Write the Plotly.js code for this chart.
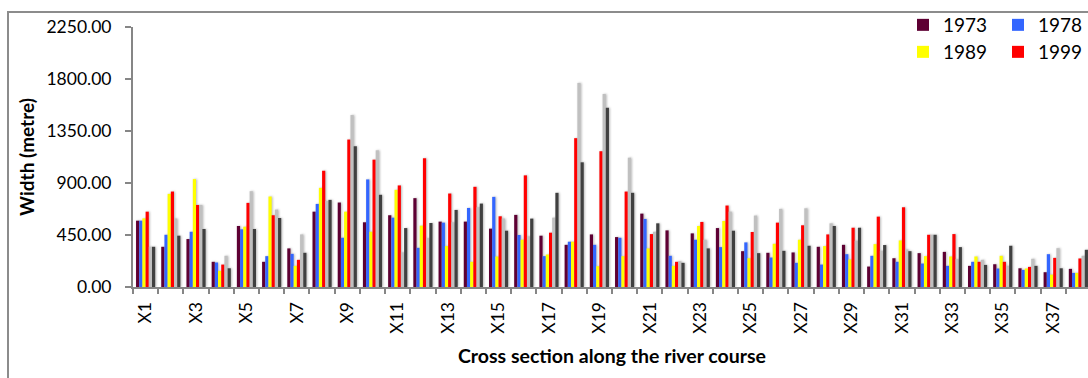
<!DOCTYPE html>
<html>
<head>
<meta charset="utf-8">
<script src="https://cdn.plot.ly/plotly-3.0.1.min.js"></script>
<style>
  html, body { margin: 0; padding: 0; width: 1088px; height: 378px; overflow: hidden; background: #fff; }
  #frame { position: absolute; left: 7px; top: 11px; width: 1300px; height: 420px; border: 2px solid #8c8c8c; }
  #chart { position: absolute; left: 0; top: 0; width: 1200px; height: 378px; }
  #chart .barlayer { filter: drop-shadow(1px 0 1px rgba(0,0,0,0.28)); }
</style>
</head>
<body>
<div id="frame"></div>
<div id="chart"></div>
<script>
// Cross sections along the river course, X1 .. X38
const sections = ['X1','X2','X3','X4','X5','X6','X7','X8','X9','X10','X11','X12','X13','X14','X15','X16','X17','X18','X19',
                  'X20','X21','X22','X23','X24','X25','X26','X27','X28','X29','X30','X31','X32','X33','X34','X35','X36','X37','X38'];

// Channel width (metre) per survey
const w1973 = [574,348,415,218,528,218,334,652,731,560,621,769,566,566,505,624,444,365,455,432,635,490,464,510,310,296,299,348,365,177,249,293,304,183,197,162,128,157];
const w1978 = [574,452,478,212,499,267,287,719,426,931,600,339,557,684,780,450,267,392,365,426,589,270,409,345,386,255,209,194,284,270,218,203,183,218,160,148,284,122];
const w1989 = [594,806,934,139,522,783,183,858,652,478,841,531,354,218,264,409,281,392,180,267,334,183,528,571,249,374,409,354,238,371,403,267,264,264,270,160,107,122];
const w1999 = [652,826,710,194,728,621,235,1006,1276,1102,879,1114,809,867,612,966,470,1288,1175,826,458,218,563,705,476,557,534,455,513,609,690,452,458,218,218,174,252,247];
const wSeries5 = [348,592,710,270,829,670,455,745,1488,1183,299,423,560,690,592,438,600,1766,1670,1119,478,223,409,652,618,676,681,551,400,313,325,452,241,235,183,244,336,270];
const wSeries6 = [348,444,502,162,502,597,296,754,1218,798,510,554,667,722,487,592,815,1079,1551,815,551,209,334,487,293,313,357,528,513,363,310,452,345,191,357,183,162,322];

const yTicks = [0, 450, 900, 1350, 1800, 2250];

// numeric positions for the sections; labels shown on every other one
const pos = sections.map((s, i) => i + 1);
const labelPos = pos.filter((p, i) => i % 2 === 0);
const labelText = sections.filter((s, i) => i % 2 === 0);

const FONT = 'Lato, "Open Sans", sans-serif';
const AXIS_GREY = '#868686';

function series(name, values, color, legendId, inLegend) {
  return {
    type: 'bar', name: name, x: pos, y: values,
    marker: { color: color, line: { width: 0 } },
    legend: legendId, showlegend: inLegend,
    hoverinfo: 'name+y'
  };
}

const traces = [
  series('1973', w1973, '#5e0033', 'legend', true),
  series('1978', w1978, '#3366ff', 'legend2', true),
  series('1989', w1989, '#ffff00', 'legend3', true),
  series('1999', w1999, '#ff0000', 'legend4', true),
  series('Series 5', wSeries5, '#c0c0c0', 'legend', false),
  series('Series 6', wSeries6, '#404040', 'legend', false)
];

// plot area geometry (px)
const W = 1200, H = 378, L = 133, T = 27, PW = 958, PH = 260;
const px2x = v => (v - L) / PW;
const px2y = v => (T + PH - v) / PH;

function legendAt(xpx, ypx) {
  return {
    x: px2x(xpx), y: px2y(ypx), xanchor: 'left', yanchor: 'middle',
    bgcolor: 'rgba(0,0,0,0)', borderwidth: 0,
    font: { family: FONT, size: 19, color: '#000' },
    itemclick: false, itemdoubleclick: false
  };
}

const layout = {
  width: W, height: H,
  margin: { l: L, t: T, r: W - L - PW, b: H - T - PH, pad: 0, autoexpand: false },
  paper_bgcolor: 'rgba(0,0,0,0)', plot_bgcolor: 'rgba(0,0,0,0)',
  font: { family: FONT, size: 17, color: '#000' },
  barmode: 'group', bargap: 0.24, bargroupgap: 0,
  xaxis: {
    range: [0.5, sections.length + 0.5],
    tickmode: 'array', tickvals: labelPos, ticktext: labelText,
    tickangle: -90, ticks: '', ticklabelstandoff: 6,
    tickfont: { family: FONT, size: 17.5, color: '#000' },
    minor: { tickmode: 'linear', tick0: 0.5, dtick: 1, ticks: 'outside', ticklen: 5, tickwidth: 2, tickcolor: AXIS_GREY, showgrid: false },
    showline: true, linecolor: AXIS_GREY, linewidth: 2,
    showgrid: false, zeroline: false, fixedrange: true,
    title: { text: 'Cross section along the river course', font: { family: FONT, size: 19.5, color: '#000', weight: 'bold' }, standoff: 17 }
  },
  yaxis: {
    range: [0, 2250], tickmode: 'array', tickvals: yTicks, tickformat: '.2f',
    ticks: 'outside', ticklen: 6, tickwidth: 2, tickcolor: AXIS_GREY, ticklabelstandoff: 10,
    tickfont: { family: FONT, size: 17.5, color: '#000' },
    showline: true, linecolor: AXIS_GREY, linewidth: 2,
    showgrid: false, zeroline: false, fixedrange: true,
    title: { text: 'Width (metre)', font: { family: FONT, size: 19, color: '#000', weight: 'bold' }, standoff: 7 }
  },
  legend: legendAt(903, 25),
  legend2: legendAt(998, 25),
  legend3: legendAt(903, 52),
  legend4: legendAt(998, 52),
  showlegend: true
};

Plotly.newPlot('chart', traces, layout, { displayModeBar: false, staticPlot: true });
</script>
</body>
</html>
